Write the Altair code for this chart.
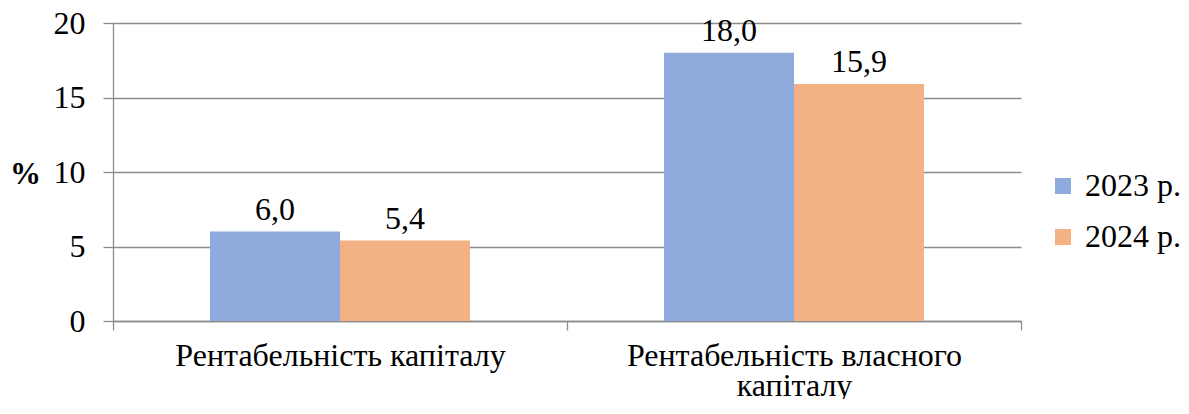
import altair as alt
import pandas as pd

categories = ["Рентабельність капіталу", "Рентабельність власного капіталу"]
years = ["2023 р.", "2024 р."]
values_2023 = [6.0, 18.0]
values_2024 = [5.4, 15.9]
colors = ["#8FAADC", "#F4B183"]
y_ticks = [0, 5, 10, 15, 20]

rows = []
for i, c in enumerate(categories):
    for y, vals in zip(years, [values_2023, values_2024]):
        v = vals[i]
        rows.append({"cat": c, "year": y, "value": v,
                     "label": f"{v:.1f}".replace(".", ",")})
df = pd.DataFrame(rows)

FONT = "Liberation Serif"
FS = 32
GRID = "#8C8C8C"

x = alt.X("cat:N", sort=categories,
          scale=alt.Scale(paddingInner=0, paddingOuter=0),
          axis=alt.Axis(title=None, labelAngle=0, tickBand="extent",
                        domainColor=GRID, tickColor=GRID, tickSize=9,
                        domainWidth=1.3, tickWidth=1.3,
                        labelFont=FONT, labelFontSize=FS, labelColor="black",
                        labelPadding=10, labelLineHeight=30, labelLimit=600,
                        labelExpr="datum.value == 'Рентабельність власного капіталу' ? ['Рентабельність власного', 'капіталу'] : datum.label"))
xo = alt.XOffset("year:N", sort=years,
                 scale=alt.Scale(paddingInner=0, paddingOuter=0.746))
y = alt.Y("value:Q", scale=alt.Scale(domain=[0, 20], nice=False),
          axis=alt.Axis(values=y_ticks, title="%", titleAngle=0,
                        titleFont=FONT, titleFontSize=31, titleFontWeight="bold",
                        titleColor="black", titleX=-88, titleY=151,
                        titleAlign="center", titleBaseline="middle",
                        labelFont=FONT, labelFontSize=FS, labelColor="black",
                        labelPadding=18, tickSize=10, tickColor=GRID,
                        domainColor=GRID, gridColor=GRID, grid=True,
                        domainWidth=1.3, tickWidth=1.3, gridWidth=1.3))

color = alt.Color("year:N", sort=years,
                  scale=alt.Scale(domain=years, range=colors),
                  legend=alt.Legend(title=None, orient="none", legendX=934, legendY=147,
                                    symbolType="square", symbolSize=256,
                                    symbolStrokeWidth=0, labelLimit=300,
                                    labelFont=FONT, labelFontSize=FS, labelColor="black",
                                    labelOffset=6, rowPadding=19))

bars = alt.Chart(df).mark_bar().encode(x=x, xOffset=xo, y=y, color=color)
texts = alt.Chart(df).mark_text(font=FONT, fontSize=FS, color="black",
                                baseline="alphabetic", dy=-12).encode(
    x=x, xOffset=xo, y=y, text="label:N")

chart = alt.layer(bars, texts).properties(
    width=908, height=298,
    autosize=alt.AutoSizeParams(type="none"),
    padding={"left": 105, "top": 15, "right": 160, "bottom": 78},
).configure(font=FONT).configure_view(stroke=None)

chart.save("out.html", embed_options={"renderer": "svg", "actions": False})
